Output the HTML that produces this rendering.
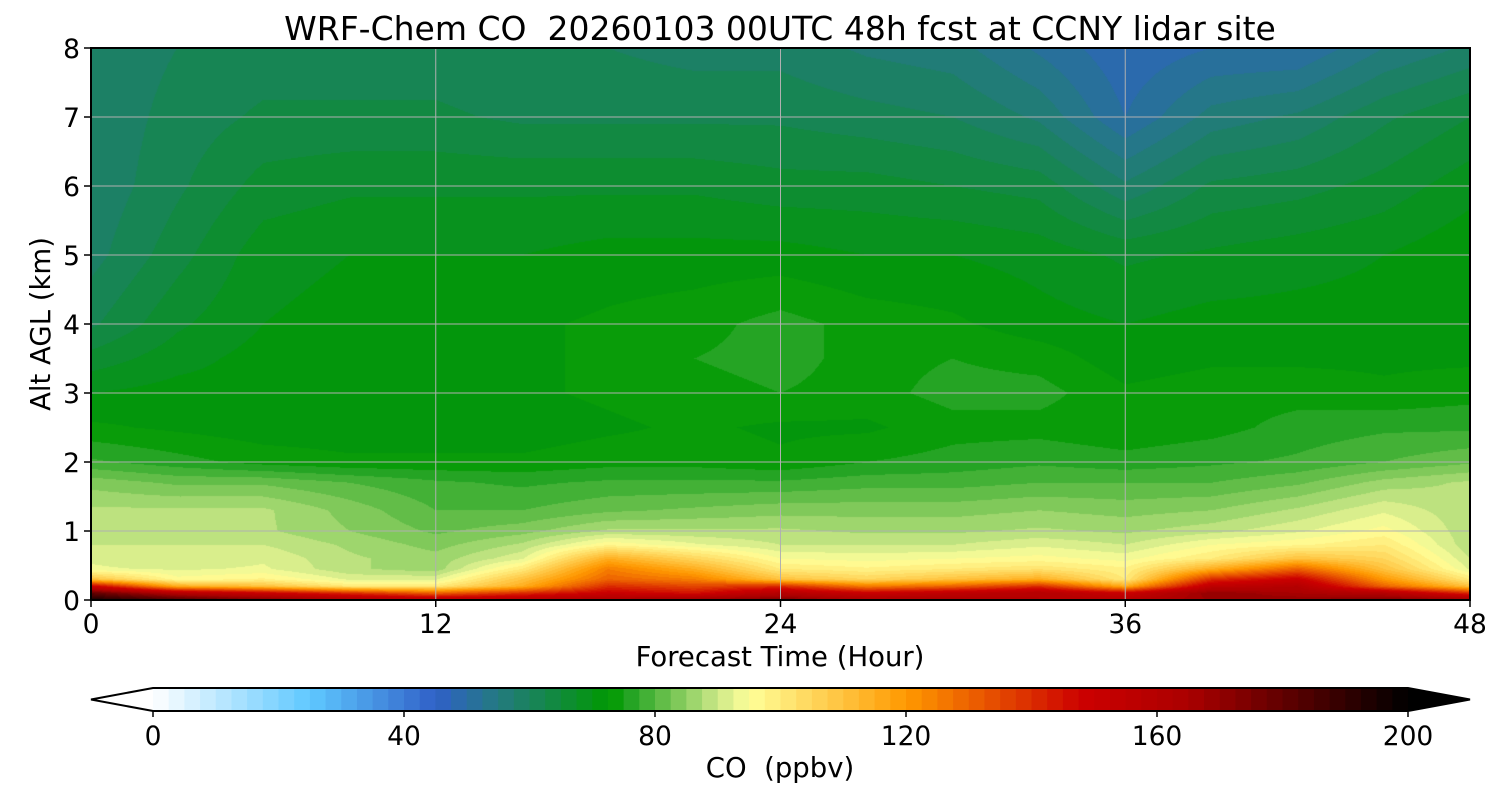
<!DOCTYPE html>
<html><head><meta charset="utf-8">
<style>
html,body{margin:0;padding:0;background:#fff;}
body{width:1500px;height:800px;position:relative;overflow:hidden;font-family:"DejaVu Sans","Liberation Sans",sans-serif;}
#plot{position:absolute;left:91px;top:48px;}
svg{position:absolute;left:0;top:0;}
</style></head>
<body>
<canvas id="plot" width="1379" height="552"></canvas>
<svg id="svg" width="1500" height="800"></svg>
<script>
// ---- data ----
const hours = [0,3,6,9,12,15,18,21,24,27,30,33,36,39,42,45,48];
const altitudes = [0,0.1,0.2,0.3,0.45,0.6,0.8,1.0,1.3,1.7,2.0,2.5,3,3.5,4,5,6,7,8];
const coRows = [
 [195,185,175,165,160,160,165,170,175,165,165,160,160,168,170,175,170],
 [180,160,150,140,130,140,150,145,160,150,155,160,150,170,165,160,140],
 [150,115,110,100,100,115,140,135,140,125,130,140,115,155,160,130,110],
 [110,96,98,92,92,110,130,125,110,105,110,115,100,140,150,120,100],
 [93,92,93,88,86,100,125,115,100,98,100,102,98,115,130,110,92],
 [92,90,92,88,86,92,115,105,95,94,95,96,94,100,110,105,90],
 [90,90,90,87,84,88,97,93,90,90,90,92,90,95,97,100,88],
 [88,88,88,85,82,84,88,88,88,87,87,88,87,89,92,96,88],
 [88,88,88,84,80,80,82,83,84,84,84,85,84,85,88,92,88],
 [84,82,82,80,78,77,78,78,78,79,79,80,80,80,82,86,88],
 [78,76,74,73,73,73,74,74,73,75,76,77,76,77,78,80,82],
 [73,72,71,71,71,71,72,73,72,72,74,74,73,74,76,77,77],
 [70,71,71,71,72,72,73,74,75,74,76,76,73,74,74,73,74],
 [66,69,71,71,71,72,73,75,76,74,75,74,71,72,72,72,72],
 [62,67,70,71,71,72,73,74,76,74,73,71,70,71,71,71,72],
 [59,64,69,70,70,70,71,71,71,70,70,69,67,68,69,70,72],
 [58,62,66,67,67,67,67,67,66,66,65,64,58,63,64,66,69],
 [58,61,63,63,63,62,62,62,62,61,60,57,50,56,58,62,65],
 [58,60,61,61,61,60,60,59,59,57,56,52,48,50,50,55,58]
];
const xTicks = [0,12,24,36,48];
const yTicks = [0,1,2,3,4,5,6,7,8];
const cbTicks = [0,40,80,120,160,200];
const cmapStops = [0,25,45,55,73,76,90,95,120,148,165,200];
const cmapColors = ['#ffffff','#5fc8ff','#3060c8','#237a80','#009900','#22a322','#cce888','#ffff99','#ff9900','#cc0000','#aa0000','#000000'];

// ---- geometry ----
const PX=91, PY=48, PW=1379, PH=552;
const xS = h => PX + h/48*PW;
const yS = a => PY + PH - a/8*PH;
const CBX0=153, CBX1=1408, CBY=688, CBH=23;
const cbS = v => CBX0 + v/200*(CBX1-CBX0);

function hex(c){return [parseInt(c.substr(1,2),16),parseInt(c.substr(3,2),16),parseInt(c.substr(5,2),16)];}
const rgbStops = cmapColors.map(hex);
function cmap(v){
  v=Math.max(0,Math.min(200,v));
  for(let i=0;i<cmapStops.length-1;i++){
    if(v<=cmapStops[i+1]){
      const t=(v-cmapStops[i])/(cmapStops[i+1]-cmapStops[i]);
      const a=rgbStops[i],b=rgbStops[i+1];
      return [a[0]+(b[0]-a[0])*t,a[1]+(b[1]-a[1])*t,a[2]+(b[2]-a[2])*t].map(Math.round);
    }
  }
  return rgbStops[rgbStops.length-1];
}
function quant(v){return Math.floor(v/2.5)*2.5+1.25;}
function findIdx(arr,v){for(let i=0;i<arr.length-1;i++){if(v<=arr[i+1])return i;}return arr.length-2;}

// ---- field ----
const cv=document.getElementById('plot');
const ctx=cv.getContext('2d');
const img=ctx.createImageData(PW,PH);
for(let py=0;py<PH;py++){
  const a=(PH-py-0.5)/PH*8;
  const j=findIdx(altitudes,a);
  const ty=(a-altitudes[j])/(altitudes[j+1]-altitudes[j]);
  for(let px=0;px<PW;px++){
    const h=(px+0.5)/PW*48;
    const i=findIdx(hours,h);
    const tx=(h-hours[i])/(hours[i+1]-hours[i]);
    const v=(coRows[j][i]*(1-tx)+coRows[j][i+1]*tx)*(1-ty)+(coRows[j+1][i]*(1-tx)+coRows[j+1][i+1]*tx)*ty;
    const c=cmap(quant(v));
    const k=(py*PW+px)*4;
    img.data[k]=c[0];img.data[k+1]=c[1];img.data[k+2]=c[2];img.data[k+3]=255;
  }
}
ctx.putImageData(img,0,0);

// ---- svg ----
const NS='http://www.w3.org/2000/svg';
const svg=document.getElementById('svg');
const FF='DejaVu Sans, Liberation Sans, sans-serif';
function el(tag,attrs,parent){const e=document.createElementNS(NS,tag);for(const k in attrs)e.setAttribute(k,attrs[k]);(parent||svg).appendChild(e);return e;}
function txt(s,attrs){const t=el('text',Object.assign({'font-family':FF,fill:'#000'},attrs));t.textContent=s;return t;}

xTicks.slice(1,-1).forEach(h=>{
  const l=el('line',{x1:xS(h),x2:xS(h),y1:PY,y2:PY+PH,stroke:'#b0b0b0','stroke-width':1});
  
  
});
yTicks.slice(1,-1).forEach(a=>{
  const l=el('line',{x1:PX,x2:PX+PW,y1:yS(a),y2:yS(a),stroke:'#b0b0b0','stroke-width':1});
  
  
});
const frame=el('rect',{x:PX,y:PY,width:PW,height:PH,fill:'none',stroke:'#000','stroke-width':2});



xTicks.forEach(h=>{
  el('line',{x1:xS(h),x2:xS(h),y1:PY+PH,y2:PY+PH+7,stroke:'#000','stroke-width':1.5});
  const t=txt(String(h),{x:xS(h),y:633,'font-size':26.5,'text-anchor':'middle'});
  
  
});
yTicks.forEach(a=>{
  el('line',{x1:PX-7,x2:PX,y1:yS(a),y2:yS(a),stroke:'#000','stroke-width':1.5});
  const t=txt(String(a),{x:80,y:yS(a)+10,'font-size':26.5,'text-anchor':'end'});
  
  
});

let t=txt('WRF-Chem CO\u00a0\u00a020260103 00UTC 48h fcst at CCNY lidar site',{x:780,y:40,'font-size':33,'text-anchor':'middle'});


t=txt('Forecast Time (Hour)',{x:780,y:666,'font-size':27.5,'text-anchor':'middle'});


t=txt('Alt AGL (km)',{x:0,y:0,'font-size':27.5,'text-anchor':'middle',transform:'translate(50,324) rotate(-90)'});



const cbg=el('g',{});


for(let v=0;v<200;v+=2.5){
  const c=cmap(v+1.25);
  el('rect',{x:cbS(v),y:CBY,width:cbS(v+2.5)-cbS(v)+0.6,height:CBH,fill:`rgb(${c[0]},${c[1]},${c[2]})`},cbg);
}
el('polygon',{points:`${CBX0},${CBY} 91,${CBY+CBH/2} ${CBX0},${CBY+CBH}`,fill:'#fff'},cbg);
el('polygon',{points:`${CBX1},${CBY} 1470,${CBY+CBH/2} ${CBX1},${CBY+CBH}`,fill:'#000'},cbg);
el('polygon',{points:`${CBX0},${CBY} ${CBX1},${CBY} 1470,${CBY+CBH/2} ${CBX1},${CBY+CBH} ${CBX0},${CBY+CBH} 91,${CBY+CBH/2}`,fill:'none',stroke:'#000','stroke-width':2},cbg);
cbTicks.forEach(v=>{
  el('line',{x1:cbS(v),x2:cbS(v),y1:CBY+CBH,y2:CBY+CBH+6,stroke:'#000','stroke-width':1.5},cbg);
  const tt=txt(String(v),{x:cbS(v),y:745,'font-size':26.5,'text-anchor':'middle'});
  
  
});
t=txt('CO\u00a0\u00a0(ppbv)',{x:780,y:777,'font-size':27.5,'text-anchor':'middle'});


</script>
</body></html>
